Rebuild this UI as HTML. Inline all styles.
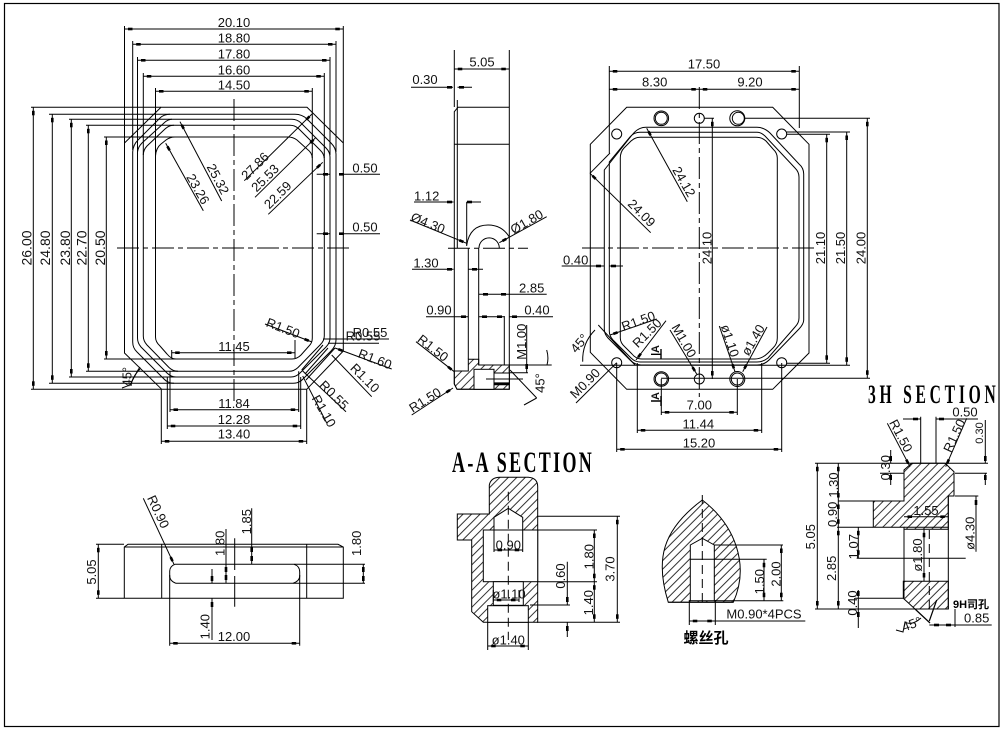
<!DOCTYPE html>
<html><head><meta charset="utf-8"><title>Drawing</title>
<style>
html,body{margin:0;padding:0;background:#fff}
svg{display:block}
.l{fill:none;stroke:#000;stroke-width:1}
.t{font-family:"Liberation Sans",sans-serif;font-size:13px;fill:#111;stroke:none;text-anchor:middle;dominant-baseline:central}
.v{font-size:14px}
.s{font-family:"Liberation Serif",serif;font-size:30px;fill:#000;font-weight:bold;stroke:none}
.c{font-family:"Liberation Sans","Noto Sans CJK SC",sans-serif;font-weight:bold;fill:#000;stroke:none;text-anchor:middle;dominant-baseline:central}
.cl{stroke-dasharray:22 4 5 4}
.da{stroke-dasharray:9 5}
.h{fill:url(#h);stroke:#000;stroke-width:1}
.w{fill:#fff;stroke:#000;stroke-width:1}
</style></head><body>
<svg width="1003" height="734" viewBox="0 0 1003 734" xmlns="http://www.w3.org/2000/svg">
<defs>
<pattern id="h" patternUnits="userSpaceOnUse" width="6" height="6" patternTransform="rotate(45)"><path d="M1 0V6" stroke="#000" stroke-width=".8"/></pattern>
<marker id="a" markerUnits="userSpaceOnUse" markerWidth="16" markerHeight="6" refX="0" refY="3" orient="auto" overflow="visible"><rect x="3.5" y="1.7" width="4.5" height="2.6" fill="#000"/></marker>
<marker id="b" markerUnits="userSpaceOnUse" markerWidth="16" markerHeight="6" refX="16" refY="3" orient="auto" overflow="visible"><rect x="8" y="1.7" width="4.5" height="2.6" fill="#000"/></marker>
</defs>
<rect width="1003" height="734" fill="#fff"/>
<rect x="4.5" y="3.5" width="994.5" height="723" fill="none" stroke="#000" stroke-width="1.2"/>

<!-- MAIN VIEW -->
<g class="l">
<path d="M124.5 143L161 107.3H307L343.3 143V351L306.7 389.3H161.7L124.5 353Z"/>
<path d="M132.7 152Q133 145 138 140L160 118Q164 114.3 170 114.3H295Q302 114.3 307 119L331 143Q336 148 336 154V340Q336 346 331 351L303 379Q299 383.3 293 383.3H174Q168 383.3 164 379L137 352Q132.7 348 132.7 342Z"/>
<path d="M137.5 152Q138 147 142 143L164 123Q168 119.3 172 119.3H292Q297 119.3 301 123L326 148Q330 152 330 157V338Q330 343 326 347L300 373Q296 377 291 377H176Q171 377 167 373L141 347Q137.5 343 137.5 338Z"/>
<path d="M143.3 155Q143.3 150 147 146L165 129Q169 125.3 174 125.3H290Q295 125.3 299 129L320 150Q324.3 154 324.3 159V336Q324.3 341 320 345L298 367.5Q294 371.3 289 371.3H178Q173 371.3 169 367.5L147 345Q143.3 341 143.3 336Z"/>
<path d="M155.5 156Q156 148 161 144L166 140Q170 137 175 137H288Q293 137 297 140L307 149Q312.3 153 312.3 158V338Q312.3 343 309 346L301 355Q297 359 292 359H176Q171 359 167 354L160 346Q155.5 342 155.5 337Z"/>
<path class="cl" d="M234 99V405M117 248H351"/>
<path d="M124.5 26V143M343.3 26V143M132.7 41V150M336 41V152M137.5 57V152M330 57V155M143.3 73V155M324.3 73V158M155.5 88V156M312.3 88V158"/>
<path d="M31 107.3H161M49 114.3H170M69 119.3H172M86 125.3H174M104 137H175"/>
<path d="M31 389.3H161M49 383.3H174M69 377H176M86 371.3H178M104 359H176"/>
<path d="M306.7 389.3V444M161.3 389.3V444M167.3 377V429M300.7 377V429M170 371.3V412M298.7 371.3V412M171.7 350V358M295 340V358"/>
<path marker-start="url(#a)" marker-end="url(#b)" d="M124.5 29H343.3"/>
<path marker-start="url(#a)" marker-end="url(#b)" d="M132.7 44.3H336"/>
<path marker-start="url(#a)" marker-end="url(#b)" d="M137.5 60.3H330"/>
<path marker-start="url(#a)" marker-end="url(#b)" d="M143.3 76.3H324.3"/>
<path marker-start="url(#a)" marker-end="url(#b)" d="M155.5 91.3H312.3"/>
<path marker-start="url(#a)" marker-end="url(#b)" d="M33.3 107.3V389.3"/>
<path marker-start="url(#a)" marker-end="url(#b)" d="M52.3 114.3V383.3"/>
<path marker-start="url(#a)" marker-end="url(#b)" d="M71.3 119.3V377"/>
<path marker-start="url(#a)" marker-end="url(#b)" d="M88.3 125.3V371.3"/>
<path marker-start="url(#a)" marker-end="url(#b)" d="M106.3 137V359"/>
<path marker-start="url(#a)" marker-end="url(#b)" d="M171.7 352.7H295"/>
<path marker-start="url(#a)" marker-end="url(#b)" d="M170 409.7H298.7"/>
<path marker-start="url(#a)" marker-end="url(#b)" d="M167.3 426H300.7"/>
<path marker-start="url(#a)" marker-end="url(#b)" d="M161.3 441.3H306.7"/>
<path marker-end="url(#b)" d="M244.3 180.7L312 114"/>
<path marker-end="url(#b)" d="M255 197.3L316 137.3"/>
<path marker-end="url(#b)" d="M268.3 214.3L322.7 162.3"/>
<path marker-end="url(#b)" d="M221.7 201L180 121.7"/>
<path marker-end="url(#b)" d="M203.3 210.7L165.7 143.3"/>
<path d="M316.7 174.3H330M340 174.3H380M316.7 233.7H330M340 233.7H380"/>
<rect x="323" y="173" width="5" height="2.6" fill="#000" stroke="none"/><rect x="339" y="173" width="5" height="2.6" fill="#000" stroke="none"/>
<rect x="323" y="232.4" width="5" height="2.6" fill="#000" stroke="none"/><rect x="339" y="232.4" width="5" height="2.6" fill="#000" stroke="none"/>
<path marker-end="url(#b)" d="M265 324L312 342"/>
<path d="M323 339H389M328 343.3H379"/>
<path marker-start="url(#a)" d="M335 348L391.7 369"/>
<path d="M331.7 355L371.7 396.7M302.7 371L346 411.7M302.7 376L326.7 423"/>
<path d="M323 345L301.7 370M328 348L305 374M335 348L306 380"/>
<path d="M140 369Q132 377 131 386"/>
<path d="M122 388L130 385L138 370L140 367"/>
</g>
<g class="t">
<text class="t" x="234" y="22.3">20.10</text>
<text class="t" x="234" y="38">18.80</text>
<text class="t" x="234" y="54">17.80</text>
<text class="t" x="234" y="70">16.60</text>
<text class="t" x="234" y="85">14.50</text>
<text class="t v" transform="translate(26.7 248) rotate(-90)">26.00</text>
<text class="t v" transform="translate(45 248) rotate(-90)">24.80</text>
<text class="t v" transform="translate(65 248) rotate(-90)">23.80</text>
<text class="t v" transform="translate(81.7 248) rotate(-90)">22.70</text>
<text class="t v" transform="translate(100 248) rotate(-90)">20.50</text>
<text class="t" x="234" y="346.7">11.45</text>
<text class="t" x="234" y="403.3">11.84</text>
<text class="t" x="234" y="419.3">12.28</text>
<text class="t" x="234" y="434">13.40</text>
<text class="t" x="365" y="168">0.50</text>
<text class="t" x="365" y="227">0.50</text>
<text class="t" transform="translate(255 166) rotate(-45)">27.86</text>
<text class="t" transform="translate(265 178) rotate(-45)">25.53</text>
<text class="t" transform="translate(277.7 195) rotate(-45)">22.59</text>
<text class="t" transform="translate(218 179) rotate(62)">25.32</text>
<text class="t" transform="translate(198 189) rotate(60)">23.26</text>
<text class="t" transform="translate(283 328) rotate(21)">R1.50</text>
<text class="t" x="370" y="332.7">R0.55</text>
<text class="t" x="363" y="336">R0.55</text>
<text class="t" transform="translate(375 359) rotate(21)">R1.60</text>
<text class="t" transform="translate(365 378) rotate(45)">R1.10</text>
<text class="t" transform="translate(334 395) rotate(45)">R0.55</text>
<text class="t" transform="translate(324 411) rotate(60)">R1.10</text>
<text class="t" transform="translate(127 376.7) rotate(-90)">45°</text>
</g>

<!-- MIDDLE VIEW -->
<g class="l">
<path d="M458 107.3H509.3V389.3H457L454.3 384V111.7Z"/>
<path d="M454.3 144.3H509.3M457.3 100V248M468.3 248V359M478.7 248V365M504.3 316V365"/>
<path class="h" d="M454.3 371H468.3V359.3H478.7V365H509.3V389.3H457L454.3 384Z"/>
<rect class="w" x="474" y="369.3" width="20" height="20"/>
<rect class="w" x="494" y="373" width="15.3" height="11"/>
<path d="M494 383H509.3M494 384.6H509.3" stroke-width="1.2"/>
<path d="M486 379H523"/>
<path d="M466.7 245Q470 225 488 225Q502 225 509.3 237"/>
<path d="M479 248A10 10 0 0 1 499.3 248" />
<path class="cl" d="M448 248.3H528"/>
<path d="M454.3 50V107M509.3 50V107M466.7 202V246"/>
<path marker-start="url(#a)" marker-end="url(#b)" d="M454.3 69H509.3"/>
<path d="M411 87.3H453M457.5 87.3H472M414 202H453.5M466.7 202H481M412 269.3H453.5M468.3 269.3H483M478.7 294.3H546.7M426 316.7H468M478.7 316.7H504.3M509.3 316.7H553M526.7 325V372.7M509.3 365H551.7M510 372.7H528"/>
<rect x="447" y="86" width="5" height="2.6" fill="#000" stroke="none"/><rect x="459" y="86" width="5" height="2.6" fill="#000" stroke="none"/>
<rect x="447" y="200.7" width="5" height="2.6" fill="#000" stroke="none"/><rect x="467" y="200.7" width="5" height="2.6" fill="#000" stroke="none"/>
<rect x="447" y="268" width="5" height="2.6" fill="#000" stroke="none"/><rect x="472" y="268" width="5" height="2.6" fill="#000" stroke="none"/>
<rect x="483" y="293" width="5" height="2.6" fill="#000" stroke="none"/><rect x="501" y="293" width="5" height="2.6" fill="#000" stroke="none"/>
<rect x="461" y="315.4" width="5" height="2.6" fill="#000" stroke="none"/><rect x="482" y="315.4" width="5" height="2.6" fill="#000" stroke="none"/><rect x="497" y="315.4" width="5" height="2.6" fill="#000" stroke="none"/><rect x="512" y="315.4" width="5" height="2.6" fill="#000" stroke="none"/>
<rect x="525.4" y="364" width="2.6" height="5" fill="#000" stroke="none"/>
<path marker-end="url(#b)" d="M410 220L466.7 243.3"/>
<path marker-end="url(#b)" d="M546.7 216.7L499.3 242.7"/>
<path marker-end="url(#b)" d="M416 341.7L454.3 371.7"/>
<path marker-end="url(#b)" d="M411.7 415L453 388"/>
<path d="M510 370L536.7 398M524 405L536.7 398M546.7 350Q549 358 547 365"/>
</g>
<text class="t" x="482" y="62">5.05</text>
<text class="t" x="425" y="79.5">0.30</text>
<text class="t" x="426.7" y="196">1.12</text>
<text class="t" x="426" y="263">1.30</text>
<text class="t" x="531.7" y="288">2.85</text>
<text class="t" x="439" y="310">0.90</text>
<text class="t" x="537" y="310">0.40</text>
<text class="t" transform="translate(428 223) rotate(22)">Ø4.30</text>
<text class="t" transform="translate(526.7 221.7) rotate(-30)">Ø1.80</text>
<text class="t" transform="translate(521.7 341.7) rotate(-90)">M1.00</text>
<text class="t" transform="translate(433 348) rotate(38)">R1.50</text>
<text class="t" transform="translate(425 400) rotate(-32)">R1.50</text>
<text class="t" transform="translate(540 383) rotate(-90)">45°</text>

<!-- RIGHT VIEW -->
<g class="l">
<path d="M626.7 107.3H772.7L809 144.3V353L772.7 389.3H626.7L590.3 352.3V144.3Z"/>
<path d="M604.3 170L632 135Q638 127.3 646 127.3H757Q764 127.3 770 133L799 164Q803.7 168 803.7 174V320Q803.7 324 799 329L771 358Q765 365 757 365H641Q635 365 630 360L608 338Q604.3 334 604.3 329Z"/>
<path d="M609.3 162L630 137Q634 132.3 640 132.3H757Q761 132.3 765 136L795 168Q799 172 799 177V318Q799 323 795 327L768 358Q763 362 757 362H640Q635 362 631 358L613 340Q609.3 336 609.3 331Z"/>
<path d="M620.3 158Q620.3 152 624 148L631 141Q635 137.3 640 137.3H756Q762 137.3 766 141L773 149Q777.3 153 777.3 158V338Q777.3 344 773 348L768 353Q762 359 755 359H642Q636 359 632 354L625 347Q620.3 343 620.3 338Z"/>
<circle cx="661.3" cy="118.3" r="7.3"/><circle cx="661.3" cy="118.3" r="6"/>
<circle cx="699.3" cy="118.3" r="5"/>
<circle cx="737.3" cy="118.3" r="7.5"/><circle cx="738.3" cy="118.3" r="6"/>
<circle cx="616.7" cy="134" r="5"/><circle cx="781.7" cy="134" r="5"/>
<circle cx="661.3" cy="379" r="7.3"/><circle cx="661.3" cy="379" r="6"/>
<circle cx="699.3" cy="379" r="5"/>
<circle cx="737.3" cy="379" r="7.5"/><circle cx="737.3" cy="379" r="6"/>
<circle cx="616.7" cy="362.7" r="5"/><circle cx="781.7" cy="362.7" r="5"/>
<path class="cl" d="M699.3 87V397M582 248H815"/>
<path d="M609.3 66V153M799.3 66V128"/>
<path marker-start="url(#a)" marker-end="url(#b)" d="M609.3 71.3H799.3"/>
<path marker-start="url(#a)" marker-end="url(#b)" d="M609.3 89.3H699.3"/>
<path marker-start="url(#a)" marker-end="url(#b)" d="M699.3 89.3H799.3"/>
<path d="M744 118.3H870M786.7 132H850M786.7 134.3H830M786.7 363.3H830M580 365.3H850M661 378.3H870M704 118.3H714"/>
<path marker-start="url(#a)" marker-end="url(#b)" d="M712.3 118.3V379"/>
<path marker-start="url(#a)" marker-end="url(#b)" d="M826.7 134.3V363.3"/>
<path marker-start="url(#a)" marker-end="url(#b)" d="M846.7 132V365.3"/>
<path marker-start="url(#a)" marker-end="url(#b)" d="M867.3 118.3V378.3"/>
<path d="M561.7 266H604M609 266H623"/>
<rect x="596" y="264.7" width="5" height="2.6" fill="#000" stroke="none"/><rect x="611" y="264.7" width="5" height="2.6" fill="#000" stroke="none"/>
<path marker-start="url(#a)" d="M590 173.3L650.7 232.7"/>
<path d="M590 173.3L610 153"/>
<path marker-start="url(#a)" d="M646.7 128.3L687.3 201.7"/>
<path marker-start="url(#a)" d="M610 335L656.7 319"/>
<path marker-start="url(#a)" d="M636 360L666 320.7"/>
<path marker-end="url(#b)" d="M670 330L696.7 374"/>
<path marker-end="url(#b)" d="M719.3 326L735 371.7"/>
<path marker-end="url(#b)" d="M767 327L742.7 371.7"/>
<path d="M598.3 325L635 365"/>
<path d="M582.7 361.7Q582 343 595 330"/>
<path d="M576 403L616.7 362.7"/>
<path d="M637.3 363V433M761.7 363V433M661.3 379V415M737.3 379V415M616.7 363V452M781.7 363V452"/>
<path marker-start="url(#a)" marker-end="url(#b)" d="M661.3 412.3H737.3"/>
<path marker-start="url(#a)" marker-end="url(#b)" d="M637.3 430.3H761.7"/>
<path marker-start="url(#a)" marker-end="url(#b)" d="M616.7 449.3H781.7"/>
<path d="M651 354.3H661M661 349V359M651 401H661M661 396V406" stroke-width="1.4"/>
</g>
<text class="t" x="704" y="64">17.50</text>
<text class="t" x="654.7" y="82">8.30</text>
<text class="t" x="750" y="82">9.20</text>
<text class="t" x="575.7" y="260">0.40</text>
<text class="t" transform="translate(707 248) rotate(-90)">24.10</text>
<text class="t" transform="translate(820.7 248) rotate(-90)">21.10</text>
<text class="t" transform="translate(840.7 248) rotate(-90)">21.50</text>
<text class="t" transform="translate(861 248) rotate(-90)">24.00</text>
<text class="t" transform="translate(641.7 213) rotate(45)">24.09</text>
<text class="t" transform="translate(684 181.7) rotate(60)">24.12</text>
<text class="t" transform="translate(638.3 321) rotate(-20)">R1.50</text>
<text class="t" transform="translate(647 333) rotate(-45)">R1.50</text>
<text class="t" transform="translate(684 340.7) rotate(60)">M1.00</text>
<text class="t" transform="translate(730 340.7) rotate(72)">ø1.10</text>
<text class="t" transform="translate(753 340) rotate(-60)">ø1.40</text>
<text class="t" transform="translate(579.3 343.3) rotate(-50)">45°</text>
<text class="t" transform="translate(585 383.3) rotate(-45)">M0.90</text>
<text class="t" style="font-weight:bold;font-size:11px" transform="translate(656 349) rotate(-90)">A</text>
<text class="t" style="font-weight:bold;font-size:11px" transform="translate(656 396) rotate(-90)">A</text>
<text class="t" x="699.3" y="405">7.00</text>
<text class="t" x="698.3" y="424">11.44</text>
<text class="t" x="699" y="443">15.20</text>

<!-- A-A SECTION -->
<text class="s" transform="translate(452 472) scale(.6 1)" textLength="233" lengthAdjust="spacing">A-A SECTION</text>
<g class="l">
<path class="h" d="M489.3 485Q491 477.3 500 477.3H528.3Q537.7 478 537.7 486.7V622.3H483.3L471.7 611.7V540H457.3V514H489.3Z"/>
<rect class="w" x="483.3" y="530" width="54.4" height="51.7"/>
<path class="w" d="M494 530V517.3L508.3 508.3L522.7 517.3V530Z"/>
<rect class="w" x="493.3" y="581.7" width="30" height="23.6"/>
<rect class="w" x="487.7" y="605.7" width="40.6" height="16.6"/>
<path class="da" d="M508.3 491.7V640"/>
<path d="M537 516.3H620M537 530H597M537 581.7H597M530 605H570M537 622.3H620"/>
<path marker-start="url(#a)" marker-end="url(#b)" d="M617.3 516.3V622.3"/>
<path marker-start="url(#a)" marker-end="url(#b)" d="M594.3 530V581.7"/>
<path marker-start="url(#a)" marker-end="url(#b)" d="M594.3 581.7V622.3"/>
<path d="M567.3 561.7V605M567.3 622.3V637"/>
<rect x="566" y="597" width="2.6" height="5" fill="#000" stroke="none"/><rect x="566" y="626" width="2.6" height="5" fill="#000" stroke="none"/>
<path d="M494 530V552M522.7 530V552M493.3 590V602M519 590V602M487.7 622V650M528.3 622V650"/>
<path marker-start="url(#a)" marker-end="url(#b)" d="M494 550H522.7"/>
<path marker-start="url(#a)" marker-end="url(#b)" d="M493.3 600H519"/>
<path marker-start="url(#a)" marker-end="url(#b)" d="M487.7 646H528.3"/>
</g>
<text class="t" x="508.3" y="545">0.90</text>
<text class="t" x="509" y="594">ø1.10</text>
<text class="t" x="508.3" y="640">ø1.40</text>
<text class="t" transform="translate(610 569) rotate(-90)">3.70</text>
<text class="t" transform="translate(589 556.7) rotate(-90)">1.80</text>
<text class="t" transform="translate(588.3 602.7) rotate(-90)">1.40</text>
<text class="t" transform="translate(560.7 576) rotate(-90)">0.60</text>

<!-- SCREW HOLE -->
<g class="l">
<path class="h" d="M668.3 602.3C655 560 662 530 702.3 500C735 525 750 565 733.3 602.3Z"/>
<path class="w" d="M690.3 600.7V545L702.3 538.3L714.3 545V600.7Z"/>
<path d="M668.3 602.3H733.3M690.3 559.3H714.3" />
<path class="da" d="M702.3 495V606.7"/>
<path d="M689.3 600V625M715.3 600V625M714 545H783M714 559.3H766.7M714 600.7H783.3M715.3 621H805.3"/>
<path marker-start="url(#a)" marker-end="url(#b)" d="M689.3 621H715.3"/>
<path marker-start="url(#a)" marker-end="url(#b)" d="M764 559.3V600.7"/>
<path marker-start="url(#a)" marker-end="url(#b)" d="M781.3 545V600.7"/>
</g>
<text class="t" x="764" y="614">M0.90*4PCS</text>
<text class="t" transform="translate(759.3 581.7) rotate(-90)">1.50</text>
<text class="t" transform="translate(776 574) rotate(-90)">2.00</text>
<text class="c" x="706" y="638.3" style="font-size:15px">螺丝孔</text>

<!-- 3H SECTION -->
<text class="s" transform="translate(868 403) scale(.6 1)" textLength="213" lengthAdjust="spacing" style="font-size:26px">3H SECTION</text>
<g class="l">
<path class="h" d="M904 470L911.7 463.3H945L954 471.7V496H948.3V529.3H904V527.3H873.3V501H904Z"/>
<path class="h" d="M903.3 581.3H948.3V609H915L903.3 598.3Z"/>
<path d="M904 529V598M948.3 496V609"/>
<path d="M904 527.3H948.3"/>
<path class="da" d="M929.3 530V609"/>
<path d="M815 463.3H988M815 609H948.3"/>
<path marker-start="url(#a)" marker-end="url(#b)" d="M817.3 463.3V609"/>
<path marker-start="url(#a)" marker-end="url(#b)" d="M838.3 463.3V501"/>
<path marker-start="url(#a)" marker-end="url(#b)" d="M838.3 501V527.3"/>
<path marker-start="url(#a)" marker-end="url(#b)" d="M838.3 527.3V609"/>
<path d="M838 501H904M837 527.3H873M856.7 558.3H965.7M855 598.3H903"/>
<path marker-start="url(#a)" marker-end="url(#b)" d="M858.3 527.3V558.3"/>
<path d="M858.3 590V628"/>
<rect x="857" y="591" width="2.6" height="5" fill="#000" stroke="none"/><rect x="857" y="612" width="2.6" height="5" fill="#000" stroke="none"/>
<path d="M890.7 450V463M890.7 473.3V485M880 473.3H904"/>
<rect x="889.4" y="456" width="2.6" height="5" fill="#000" stroke="none"/><rect x="889.4" y="475" width="2.6" height="5" fill="#000" stroke="none"/>
<path marker-end="url(#b)" d="M887.3 423.3L910 466.7"/>
<path marker-end="url(#b)" d="M966.7 418.3L945.7 466.7"/>
<path d="M903 419H920.7M936 419H978M920.7 416.7V463M936 416.7V463"/>
<rect x="913" y="417.7" width="5" height="2.6" fill="#000" stroke="none"/><rect x="939" y="417.7" width="5" height="2.6" fill="#000" stroke="none"/>
<path d="M985.3 420V463M985.3 473.3V485M955 473.3H987"/>
<rect x="984" y="456" width="2.6" height="5" fill="#000" stroke="none"/><rect x="984" y="475" width="2.6" height="5" fill="#000" stroke="none"/>
<path d="M955 496H978.3M976 496V551.7"/>
<rect x="974.7" y="500" width="2.6" height="5" fill="#000" stroke="none"/>
<path marker-start="url(#a)" marker-end="url(#b)" d="M924 529.3V581"/>
<path marker-start="url(#a)" marker-end="url(#b)" d="M904 516.7H948.3"/>
<path d="M955 609V627M929.3 625H991.7"/>
<rect x="934" y="623.7" width="5" height="2.6" fill="#000" stroke="none"/><rect x="946" y="623.7" width="5" height="2.6" fill="#000" stroke="none"/>
<path d="M915 609L930 623M936.7 600L929.3 621" stroke-width="1.2"/>
<path d="M896 630L903 632L905 622Q912 626 921 618"/>
</g>
<text class="t" transform="translate(810.7 536.7) rotate(-90)">5.05</text>
<text class="t" transform="translate(833.3 485) rotate(-90)">1.30</text>
<text class="t" transform="translate(832.3 514.3) rotate(-90)">0.90</text>
<text class="t" transform="translate(831.7 568.3) rotate(-90)">2.85</text>
<text class="t" transform="translate(853.3 546.7) rotate(-90)">1.07</text>
<text class="t" transform="translate(852.7 603) rotate(-90)">0.40</text>
<text class="t" transform="translate(885.7 467.7) rotate(-90)">0.30</text>
<text class="t" transform="translate(901 435.7) rotate(62)">R1.50</text>
<text class="t" transform="translate(954.3 435.7) rotate(-65)">R1.50</text>
<text class="t" x="965" y="412">0.50</text>
<text class="t" style="font-size:11px" transform="translate(980 433) rotate(-90)">0.30</text>
<text class="t" transform="translate(970 533.3) rotate(-90)">ø4.30</text>
<text class="t" transform="translate(917.7 555) rotate(-90)">ø1.80</text>
<text class="t" x="926" y="510.7">1.55</text>
<text class="c" x="971" y="605" style="font-size:11px">9H司孔</text>
<text class="t" x="976.7" y="618">0.85</text>
<text class="t" transform="translate(911.7 624) rotate(-20)">45°</text>

<!-- BOTTOM-LEFT VIEW -->
<g class="l">
<path d="M124.3 547L128 544.3H338L343.3 547V598.3H124.3ZM124.3 547H343.3M161.7 544.3V598.3M306.7 544.3V598.3"/>
<path class="w" style="fill:none" d="M175 564.3H294Q299.7 566 299.7 572V576Q299.7 581 293 583.3H176Q169.7 581 169.7 576V571Q170 566 175 564.3Z"/>
<path d="M294 564.3H365M293 583.3H365"/>
<path d="M234.7 538.3V570M234.7 576V606.7"/>
<path d="M96 544.3H124M96 598.3H124"/>
<path marker-start="url(#a)" marker-end="url(#b)" d="M98.3 544.3V598.3"/>
<path marker-end="url(#b)" d="M143.3 498.3L174 564.3"/>
<path d="M226 529V583.3M251.7 508.3V564.3M212 569V583.3M212 598.3V640M363.3 564.3V583.3M169.7 575V645.7M299.7 575V645.7"/>
<rect x="224.7" y="567" width="2.6" height="5" fill="#000" stroke="none"/><rect x="224.7" y="575" width="2.6" height="5" fill="#000" stroke="none"/>
<rect x="250.4" y="547" width="2.6" height="5" fill="#000" stroke="none"/><rect x="250.4" y="556" width="2.6" height="5" fill="#000" stroke="none"/>
<rect x="210.7" y="576" width="2.6" height="5" fill="#000" stroke="none"/><rect x="210.7" y="602" width="2.6" height="5" fill="#000" stroke="none"/>
<rect x="362" y="567" width="2.6" height="5" fill="#000" stroke="none"/><rect x="362" y="576" width="2.6" height="5" fill="#000" stroke="none"/>
<path marker-start="url(#a)" marker-end="url(#b)" d="M169.7 643.3H299.7"/>
</g>
<text class="t" transform="translate(91.7 572) rotate(-90)">5.05</text>
<text class="t" transform="translate(158.3 511.7) rotate(65)">R0.90</text>
<text class="t" transform="translate(220 543.3) rotate(-90)">1.80</text>
<text class="t" transform="translate(246.7 521.7) rotate(-90)">1.85</text>
<text class="t" transform="translate(356.7 543.3) rotate(-90)">1.80</text>
<text class="t" transform="translate(205 626.7) rotate(-90)">1.40</text>
<text class="t" x="234" y="636.7">12.00</text>
</svg>
</body></html>
